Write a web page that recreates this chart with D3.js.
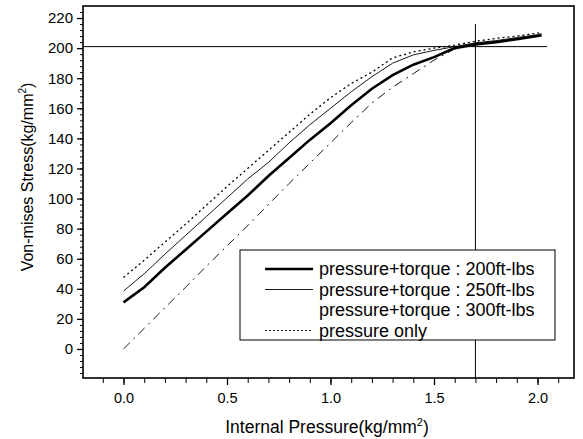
<!DOCTYPE html>
<html>
<head>
<meta charset="utf-8">
<script src="https://cdn.jsdelivr.net/npm/d3@7"></script>
<style>
    body { margin: 0; background: #fff; }
    svg { display: block; font-family: "Liberation Sans", Arial, sans-serif; }
    .axis path, .axis line { stroke: #000; }
    .axis text { fill: #000; }
</style>
</head>
<body>
<div id="chart"></div>
<script>
'use strict';

// Data
const pressure = [0.0, 0.1, 0.2, 0.3, 0.4, 0.5, 0.6, 0.7, 0.8, 0.9, 1.0,
    1.1, 1.2, 1.3, 1.4, 1.5, 1.6, 1.7, 1.8, 1.9, 2.0, 2.02];
const stress200 = [31, 41, 54, 66, 78, 90, 102, 115, 127, 139, 150,
    162, 173, 182, 189, 194, 200, 202.5, 204, 206, 208, 208.5];
const stress250 = [38.5, 50, 63, 75.5, 88, 100.5, 113, 124, 137, 149, 160,
    171, 181, 190, 195.5, 198.5, 201, 203.5, 205, 207, 209, 209.5];
const stress300 = [47.5, 59, 71, 83, 95.5, 108, 120, 132, 144, 156, 167,
    176.5, 184, 193.5, 197.5, 200, 202, 204.5, 206.5, 208, 210, 210.5];
const stressPressureOnly = [0, 13.7, 27.4, 41, 55, 68.5, 82, 96, 110, 123.5, 137,
    150.5, 163.5, 174, 183, 192, 199.5, 202.5, 204, 206, 208, 208.5];

const seriesNames = [
    'pressure+torque : 200ft-lbs',
    'pressure+torque : 250ft-lbs',
    'pressure+torque : 300ft-lbs',
    'pressure only'
];

const xMajorTicks = [0.0, 0.5, 1.0, 1.5, 2.0];
const yMajorTicks = [0, 20, 40, 60, 80, 100, 120, 140, 160, 180, 200, 220];

// Reference lines (yield stress / pressure)
const refStress = 201;
const refPressure = 1.7;

class StressChart {

    constructor(_ref) {
        this.parent = _ref;
        this.initVis();
    }

    initVis() {
        // Get this vis
        const vis = this;

        // Config
        vis.w = 583;
        vis.h = 439;
        vis.margin = {top: 6, right: 9, bottom: 61, left: 83};
        vis.gW = vis.w - (vis.margin.left + vis.margin.right);
        vis.gH = vis.h - (vis.margin.top + vis.margin.bottom);

        vis.svg = d3.select(`#${vis.parent}`)
            .append('svg')
            .attr('width', vis.w)
            .attr('height', vis.h);

        vis.g = vis.svg.append('g')
            .attr('transform', `translate(${vis.margin.left},${vis.margin.top})`);

        // Scales
        vis.xScale = d3.scaleLinear()
            .domain([-0.1957, 2.1763])
            .range([0, vis.gW]);
        vis.yScale = d3.scaleLinear()
            .domain([-19.3, 228])
            .range([vis.gH, 0]);

        vis.series = [
            {name: seriesNames[0], values: stress200, width: 2.6, dash: null},
            {name: seriesNames[1], values: stress250, width: 0.9, dash: null},
            {name: seriesNames[2], values: stress300, width: 1.3, dash: '2,3'},
            {name: seriesNames[3], values: stressPressureOnly, width: 0.9, dash: '9,5,2,5'}
        ];

        vis.lineMaker = d3.line()
            .x(d => vis.xScale(d[0]))
            .y(d => vis.yScale(d[1]));

        vis.drawAxes();
        vis.updateVis();
        vis.drawLegend();
    }

    drawAxes() {
        const vis = this;

        // x minor ticks every 0.1
        const xMinor = d3.range(-1, 22).map(i => i / 10).filter(v => v > -0.19);
        vis.g.append('g')
            .attr('class', 'axis')
            .attr('transform', `translate(0,${vis.gH})`)
            .call(d3.axisBottom(vis.xScale).tickValues(xMinor).tickSize(5).tickFormat(''))
            .call(g => g.select('.domain').remove());

        vis.g.append('g')
            .attr('class', 'axis')
            .attr('transform', `translate(0,${vis.gH})`)
            .call(d3.axisBottom(vis.xScale).tickValues(xMajorTicks).tickSize(7).tickPadding(8)
                .tickFormat(d3.format('.1f')))
            .call(g => g.select('.domain').remove())
            .call(g => g.selectAll('line').attr('stroke-width', 1.3))
            .call(g => g.selectAll('text').style('font-size', '14.5px'));

        // y minor ticks every 4
        const yMinor = d3.range(-16, 228, 4);
        vis.g.append('g')
            .attr('class', 'axis')
            .call(d3.axisLeft(vis.yScale).tickValues(yMinor).tickSize(3).tickFormat(''))
            .call(g => g.select('.domain').remove());

        vis.g.append('g')
            .attr('class', 'axis')
            .call(d3.axisLeft(vis.yScale).tickValues(yMajorTicks).tickSize(6).tickPadding(4))
            .call(g => g.select('.domain').remove())
            .call(g => g.selectAll('line').attr('stroke-width', 1.3))
            .call(g => g.selectAll('text').style('font-size', '15px'));

        // Frame
        vis.g.append('rect')
            .attr('width', vis.gW)
            .attr('height', vis.gH)
            .attr('fill', 'none')
            .attr('stroke', '#000')
            .attr('stroke-width', 1.6);

        // Reference lines
        vis.g.append('line')
            .attr('x1', 0)
            .attr('x2', vis.xScale(2.046))
            .attr('y1', vis.yScale(refStress))
            .attr('y2', vis.yScale(refStress))
            .attr('stroke', '#000')
            .attr('stroke-width', 1);
        vis.g.append('line')
            .attr('x1', vis.xScale(refPressure))
            .attr('x2', vis.xScale(refPressure))
            .attr('y1', vis.yScale(216))
            .attr('y2', vis.gH)
            .attr('stroke', '#000')
            .attr('stroke-width', 1);

        // Axis titles
        const xTitle = vis.svg.append('text')
            .attr('x', 327)
            .attr('y', 433)
            .attr('text-anchor', 'middle')
            .style('font-size', '17.5px')
            .text('Internal Pressure(kg/mm');
        xTitle.append('tspan').attr('dy', -7).style('font-size', '11px').text('2');
        xTitle.append('tspan').attr('dy', 7).text(')');

        const yTitle = vis.svg.append('text')
            .attr('transform', 'translate(33,177) rotate(-90)')
            .attr('text-anchor', 'middle')
            .style('font-size', '16px')
            .text('Von-mises Stress(kg/mm');
        yTitle.append('tspan').attr('dy', -7).style('font-size', '10px').text('2');
        yTitle.append('tspan').attr('dy', 7).text(')');
    }

    updateVis() {
        const vis = this;

        vis.g.selectAll('.series')
            .data(vis.series)
            .join('path')
            .attr('class', 'series')
            .attr('fill', 'none')
            .attr('stroke', '#000')
            .attr('stroke-width', d => d.width)
            .attr('stroke-dasharray', d => d.dash)
            .attr('d', d => vis.lineMaker(d.values.map((v, i) => [pressure[i], v])));
    }

    drawLegend() {
        const vis = this;

        const lg = vis.svg.append('g')
            .attr('class', 'legend');
        lg.append('rect')
            .attr('x', 240)
            .attr('y', 250)
            .attr('width', 315)
            .attr('height', 90)
            .attr('fill', '#fff')
            .attr('stroke', '#000')
            .attr('stroke-width', 1);

        const rows = lg.selectAll('.lgRow')
            .data(vis.series)
            .join('g')
            .attr('class', 'lgRow')
            .attr('transform', (d, i) => `translate(0,${269 + i * 20.5})`);
        // 300ft-lbs sample is not visible in the figure
        rows.filter((d, i) => i !== 2)
            .append('line')
            .attr('x1', 265)
            .attr('x2', 313)
            .attr('stroke', '#000')
            .attr('stroke-width', d => d.width)
            .attr('stroke-dasharray', (d, i) => d.dash ? '2,2' : null);
        rows.append('text')
            .attr('x', 319)
            .attr('dy', '0.35em')
            .style('font-size', '18px')
            .text(d => d.name);
    }
}

new StressChart('chart');
</script>
</body>
</html>
